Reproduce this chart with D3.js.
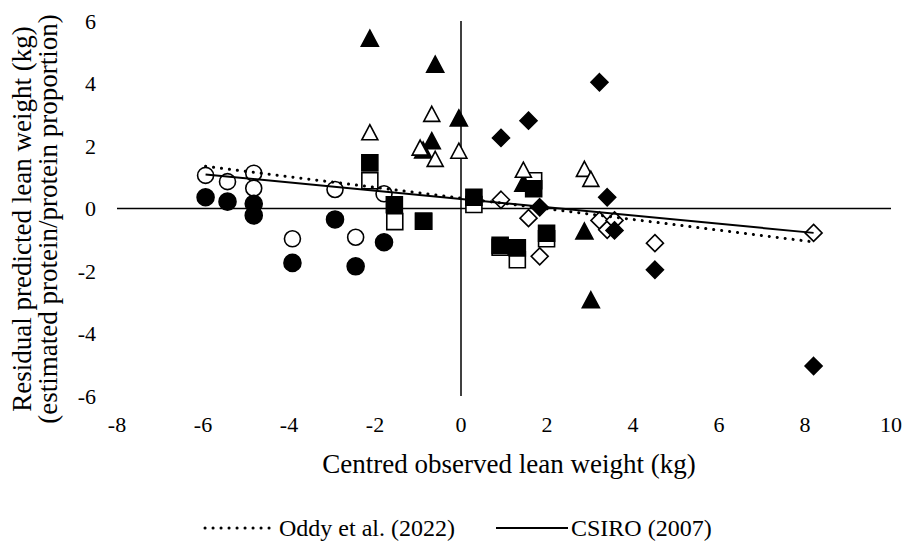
<!DOCTYPE html>
<html>
<head>
<meta charset="utf-8">
<script src="https://cdn.jsdelivr.net/npm/d3@7"></script>
<style>
  body { margin: 0; background: #fff; }
  text { font-family: "Liberation Serif", "Times New Roman", serif; fill: #000; }
</style>
</head>
<body>
<svg class="svg1" width="905" height="542"></svg>
<script>
// axis ranges and ticks
var xTicks = [-8, -6, -4, -2, 0, 2, 4, 6, 8, 10];
var yTicks = [-6, -4, -2, 0, 2, 4, 6];

// series values
var fillCircleX = [-5.94, -5.43, -4.82, -4.82, -2.93, -3.92, -2.45, -1.79];
var fillCircleY = [0.36, 0.22, 0.15, -0.22, -0.35, -1.74, -1.85, -1.08];
var openCircleX = [-5.94, -5.43, -4.82, -4.82, -2.93, -3.92, -2.45, -1.79];
var openCircleY = [1.06, 0.86, 1.13, 0.65, 0.61, -0.97, -0.92, 0.47];

var fillSquareX = [-2.12, -1.55, -0.87, 0.30, 1.69, 0.91, 1.31, 1.99];
var fillSquareY = [1.46, 0.12, -0.41, 0.36, 0.63, -1.18, -1.26, -0.79];
var openSquareX = [-2.12, -1.54, -0.87, 0.30, 1.69, 0.91, 1.31, 1.99];
var openSquareY = [0.89, -0.42, -0.41, 0.13, 0.89, -1.24, -1.64, -0.97];

var fillTriX = [-2.12, -0.60, -0.05, -0.68, -0.88, 1.45, 2.87, 3.02];
var fillTriY = [5.45, 4.62, 2.90, 2.17, 1.87, 0.81, -0.72, -2.92];
var openTriX = [-0.95, -2.12, -0.68, -0.60, -0.05, 1.45, 2.87, 3.02];
var openTriY = [1.95, 2.44, 3.03, 1.59, 1.85, 1.24, 1.27, 0.95];

var fillDiaX = [3.22, 1.57, 0.93, 3.40, 1.83, 3.57, 4.51, 8.20];
var fillDiaY = [4.04, 2.81, 2.26, 0.36, 0.04, -0.70, -1.96, -5.04];
var openDiaX = [0.93, 1.57, 1.83, 3.22, 3.40, 3.57, 4.51, 8.20];
var openDiaY = [0.28, -0.31, -1.53, -0.38, -0.68, -0.38, -1.11, -0.78];

// trend lines (end points)
var trendX = [-5.94, 8.20];
var oddyY = [1.35, -1.07];
var csiroY = [1.09, -0.78];

var legendNames = ["Oddy et al. (2022)", "CSIRO (2007)"];

var svg1 = d3.select(".svg1");

var scaleX = d3.scaleLinear().domain([-8, 10]).range([117, 891]);
var scaleY = d3.scaleLinear().domain([-6, 6]).range([396, 21]);

// axis lines through zero
svg1.append("line")
    .attr("x1", scaleX(-8)).attr("x2", scaleX(10))
    .attr("y1", scaleY(0)).attr("y2", scaleY(0))
    .attr("stroke", "#000").attr("stroke-width", 1.5);
svg1.append("line")
    .attr("x1", scaleX(0)).attr("x2", scaleX(0))
    .attr("y1", scaleY(6)).attr("y2", scaleY(-6))
    .attr("stroke", "#000").attr("stroke-width", 1.5);

// tick labels
svg1.selectAll(".xtick")
    .data(xTicks)
    .enter()
    .append("text")
    .attr("class", "xtick")
    .attr("x", function(d) { return scaleX(d); })
    .attr("y", 432)
    .attr("text-anchor", "middle")
    .style("font-size", "22px")
    .text(function(d) { return d; });

svg1.selectAll(".ytick")
    .data(yTicks)
    .enter()
    .append("text")
    .attr("class", "ytick")
    .attr("x", 96)
    .attr("y", function(d) { return scaleY(d); })
    .attr("dy", "0.35em")
    .attr("text-anchor", "end")
    .style("font-size", "22px")
    .text(function(d) { return d; });

// axis titles
svg1.append("text")
    .attr("x", 509)
    .attr("y", 473)
    .attr("text-anchor", "middle")
    .style("font-size", "27px")
    .text("Centred observed lean weight (kg)");

svg1.append("text")
    .attr("transform", "translate(31,219) rotate(-90)")
    .attr("text-anchor", "middle")
    .style("font-size", "27px")
    .text("Residual predicted lean weight (kg)");
svg1.append("text")
    .attr("transform", "translate(57,219) rotate(-90)")
    .attr("text-anchor", "middle")
    .style("font-size", "27px")
    .text("(estimated protein/protein proportion)");

// marker shapes
function circlePath(s) {
    var r = s / 2;
    return "M" + (-r) + ",0A" + r + "," + r + " 0 1,0 " + r + ",0A" + r + "," + r + " 0 1,0 " + (-r) + ",0Z";
}
function squarePath(s) {
    var h = s / 2;
    return "M" + (-h) + "," + (-h) + "H" + h + "V" + h + "H" + (-h) + "Z";
}
function triPath(s) {
    var w = s / 2, h = s * 0.47;
    return "M0," + (-h) + "L" + w + "," + h + "L" + (-w) + "," + h + "Z";
}
function diaPath(s) {
    var h = s / 2;
    return "M0," + (-h) + "L" + h + ",0L0," + h + "L" + (-h) + ",0Z";
}

function drawSeries(xs, ys, shape, size, filled) {
    svg1.append("g")
        .selectAll("path")
        .data(xs)
        .enter()
        .append("path")
        .attr("transform", function(d, i) { return "translate(" + scaleX(d) + "," + scaleY(ys[i]) + ")"; })
        .attr("d", shape(size))
        .attr("fill", filled ? "#000" : "#fff")
        .attr("stroke", "#000")
        .attr("stroke-width", 1.6);
}

drawSeries(openCircleX, openCircleY, circlePath, 16, false);
drawSeries(fillCircleX, fillCircleY, circlePath, 17, true);
drawSeries(openSquareX, openSquareY, squarePath, 16, false);
drawSeries(fillSquareX, fillSquareY, squarePath, 16, true);
drawSeries(fillTriX, fillTriY, triPath, 17, true);
drawSeries(openTriX, openTriY, triPath, 16, false);
drawSeries(openDiaX, openDiaY, diaPath, 17, false);
drawSeries(fillDiaX, fillDiaY, diaPath, 17, true);

// trend lines on top
var line = d3.line()
    .x(function(d) { return scaleX(d[0]); })
    .y(function(d) { return scaleY(d[1]); });

svg1.append("path")
    .attr("d", line(d3.zip(trendX, oddyY)))
    .attr("fill", "none")
    .attr("stroke", "#000")
    .attr("stroke-width", 3)
    .attr("stroke-linecap", "round")
    .attr("stroke-dasharray", "0.1,7.9");

svg1.append("path")
    .attr("d", line(d3.zip(trendX, csiroY)))
    .attr("fill", "none")
    .attr("stroke", "#000")
    .attr("stroke-width", 2);

// legend
var legY = 528;
svg1.append("line")
    .attr("x1", 205).attr("x2", 272)
    .attr("y1", legY).attr("y2", legY)
    .attr("stroke", "#000").attr("stroke-width", 3)
    .attr("stroke-linecap", "round")
    .attr("stroke-dasharray", "0.1,7.9");
svg1.append("text")
    .attr("x", 279).attr("y", legY)
    .attr("dy", "0.33em")
    .style("font-size", "24px")
    .text(legendNames[0]);

svg1.append("line")
    .attr("x1", 496).attr("x2", 568)
    .attr("y1", legY).attr("y2", legY)
    .attr("stroke", "#000").attr("stroke-width", 2);
svg1.append("text")
    .attr("x", 571).attr("y", legY)
    .attr("dy", "0.33em")
    .style("font-size", "24px")
    .text(legendNames[1]);
</script>
</body>
</html>
